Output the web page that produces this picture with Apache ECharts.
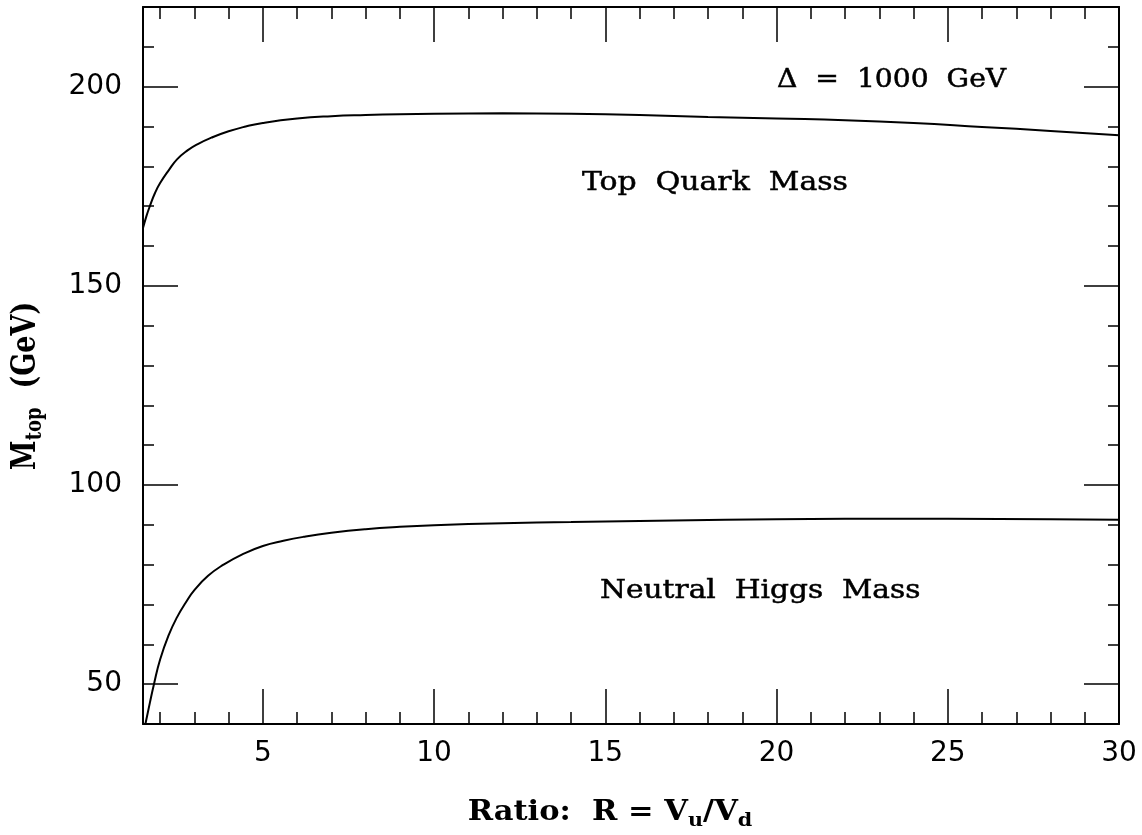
<!DOCTYPE html>
<html>
<head>
<meta charset="utf-8">
<script src="https://cdn.jsdelivr.net/npm/echarts@6/dist/echarts.min.js"></script>
<style>
html,body{margin:0;padding:0;background:#fff;}
#chart{width:1142px;height:835px;}
</style>
</head>
<body>
<div id="chart"></div>
<script>
// ---- data ----
const topQuarkR    = [1.5, 1.6, 1.7, 1.85, 2.0, 2.25, 2.5, 2.8, 3.1, 3.5, 4.0, 4.5, 5, 6, 7, 8, 9, 10, 12, 14, 16, 18, 20, 22, 24, 26, 28, 30];
const topQuarkMass = [164.5, 167.5, 170.0, 173.3, 175.8, 179.0, 181.8, 184.0, 185.6, 187.2, 188.8, 190.0, 190.9, 192.0, 192.6, 192.9, 193.1, 193.2, 193.3, 193.2, 192.9, 192.4, 192.0, 191.6, 190.9, 189.9, 188.9, 187.8];

const higgsR    = [1.57, 1.7, 1.82, 2.0, 2.25, 2.5, 2.75, 3.0, 3.4, 3.85, 4.4, 5, 5.6, 6.2, 7, 8, 9, 10, 12, 14, 17, 20, 22, 25, 28, 30];
const higgsMass = [40, 45.3, 50, 56.2, 62.3, 66.9, 70.5, 73.6, 77.2, 80.0, 82.6, 84.7, 86.0, 87.0, 88.0, 88.9, 89.5, 89.9, 90.4, 90.7, 91.1, 91.4, 91.5, 91.5, 91.4, 91.3];

const xMajorTicks = [5, 10, 15, 20, 25, 30];
const xMinorTicks = [2, 3, 4, 6, 7, 8, 9, 11, 12, 13, 14, 16, 17, 18, 19, 21, 22, 23, 24, 26, 27, 28, 29];
const yMajorTicks = [50, 100, 150, 200];
const yMinorTicks = [60, 70, 80, 90, 110, 120, 130, 140, 160, 170, 180, 190, 210];

const xRange = [1.5, 30];
const yRange = [40, 220];

const annotationTexts = ['\u0394  =  1000  GeV', 'Top  Quark  Mass', 'Neutral  Higgs  Mass'];

// ---- chart ----
const chart = echarts.init(document.getElementById('chart'), null, {renderer: 'canvas'});

function makeAxis(kind, pos, ticks, len, showLabel, showLine) {
  const range = kind === 'x' ? xRange : yRange;
  return {
    type: 'value',
    position: pos,
    min: range[0],
    max: range[1],
    axisLine: {show: showLine, onZero: false, lineStyle: {color: '#000', width: 2}},
    axisTick: {show: true, inside: true, length: len, customValues: ticks,
               lineStyle: {color: '#000', width: 1.5}},
    axisLabel: {show: showLabel, customValues: ticks, color: '#000',
                fontFamily: 'DejaVu Sans', fontSize: 28,
                margin: kind === 'x' ? 16 : 21},
    splitLine: {show: false},
    minorTick: {show: false},
    z: 5
  };
}

function pairs(xs, ys) { return xs.map((x, i) => [x, ys[i]]); }

const serifText = (text, x, y, sx) => ({
  type: 'text', x: x, y: y, scaleX: sx, z: 10,
  style: {text: text, font: '26px "DejaVu Serif"', fill: '#000',
          stroke: '#000', lineWidth: 0.5,
          align: 'left', verticalAlign: 'middle'}
});

const option = {
  animation: false,
  backgroundColor: '#fff',
  grid: {left: 143, right: 23, top: 7, bottom: 111, containLabel: false},
  xAxis: [
    makeAxis('x', 'bottom', xMajorTicks, 35, true, true),
    makeAxis('x', 'bottom', xMinorTicks, 12, false, false),
    makeAxis('x', 'top', xMajorTicks, 35, false, true),
    makeAxis('x', 'top', xMinorTicks, 12, false, false)
  ],
  yAxis: [
    makeAxis('y', 'left', yMajorTicks, 35, true, true),
    makeAxis('y', 'left', yMinorTicks, 11, false, false),
    makeAxis('y', 'right', yMajorTicks, 35, false, true),
    makeAxis('y', 'right', yMinorTicks, 11, false, false)
  ],
  series: [
    {
      name: 'Top Quark Mass', type: 'line', xAxisIndex: 0, yAxisIndex: 0,
      data: pairs(topQuarkR, topQuarkMass), showSymbol: false,
      smooth: 0.5,
      lineStyle: {color: '#000', width: 2}, clip: true
    },
    {
      name: 'Neutral Higgs Mass', type: 'line', xAxisIndex: 0, yAxisIndex: 0,
      data: pairs(higgsR, higgsMass), showSymbol: false,
      smooth: 0.5,
      lineStyle: {color: '#000', width: 2}, clip: true
    }
  ],
  graphic: [
    serifText(annotationTexts[0], 777, 80, 1.085),
    serifText(annotationTexts[1], 582, 183, 1.15),
    serifText(annotationTexts[2], 600, 591, 1.14),
    {type: 'text', x: 610, y: 815, scaleX: 1.09, z: 10,
     style: {
       text: '{b|Ratio:  R = V}{s|u}{b|/V}{s|d}',
       align: 'center', verticalAlign: 'middle', fill: '#000',
       rich: {
         b: {fontFamily: 'DejaVu Serif', fontWeight: 'bold', fontSize: 28, color: '#000', verticalAlign: 'top'},
         s: {fontFamily: 'DejaVu Serif', fontWeight: 'bold', fontSize: 19, color: '#000', verticalAlign: 'top', padding: [13, 0, 0, 0]}
       }
     }},
    {type: 'text', x: 28, y: 386, rotation: Math.PI / 2, scaleY: 1.25, z: 10,
     style: {
       text: '{b|M}{s|top}{b|  (GeV)}',
       align: 'center', verticalAlign: 'middle', fill: '#000',
       rich: {
         b: {fontFamily: 'DejaVu Serif', fontWeight: 'bold', fontSize: 27, color: '#000', verticalAlign: 'top'},
         s: {fontFamily: 'DejaVu Serif', fontWeight: 'bold', fontSize: 18, color: '#000', verticalAlign: 'top', padding: [12, 0, 0, 0]}
       }
     }}
  ]
};

chart.setOption(option);
</script>
</body>
</html>
